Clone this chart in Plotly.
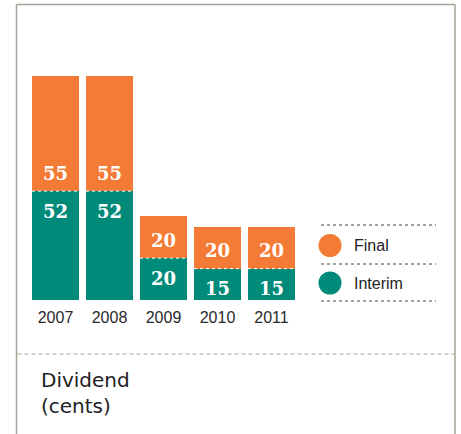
import plotly.graph_objects as go

years = ["2007", "2008", "2009", "2010", "2011"]
interim = [52, 52, 20, 15, 15]
final = [55, 55, 20, 20, 20]
series_names = ["Final", "Interim"]
title_lines = ["Dividend", "(cents)"]

ORANGE = "#f37b35"
TEAL = "#008a7a"
FRAME = "#aaa298"
W, H = 461, 434


def px(x):
    return x / W


def py(y):
    return 1 - y / H


idx = list(range(len(years)))
bw = 0.87

fig = go.Figure()
fig.add_bar(x=idx, y=interim, width=bw, marker=dict(color=TEAL, line=dict(width=0)),
            name="Interim", hoverinfo="skip")
fig.add_bar(x=idx, y=final, width=bw, marker=dict(color=ORANGE, line=dict(width=0)),
            name="Final", hoverinfo="skip")

shapes = []
annotations = []
num_font = dict(family="DejaVu Serif", size=18, color="white")
for i, (a, b) in enumerate(zip(interim, final)):
    shapes.append(dict(type="line", xref="x", yref="y", x0=i - bw / 2, x1=i + bw / 2,
                       y0=a, y1=a, line=dict(color="white", width=1, dash="dot")))
    annotations.append(dict(xref="x", yref="y", x=i, y=a, yshift=-20, text="<b>%d</b>" % a,
                            showarrow=False, font=num_font, xanchor="center", yanchor="middle"))
    annotations.append(dict(xref="x", yref="y", x=i, y=a, yshift=18, text="<b>%d</b>" % b,
                            showarrow=False, font=num_font, xanchor="center", yanchor="middle"))

# frame
shapes.append(dict(type="line", xref="paper", yref="paper", x0=px(16.5), x1=px(16.5),
                   y0=py(4.5), y1=py(434), line=dict(color=FRAME, width=1.5)))
shapes.append(dict(type="line", xref="paper", yref="paper", x0=px(16.5), x1=px(455),
                   y0=py(4.5), y1=py(4.5), line=dict(color=FRAME, width=1.5)))
shapes.append(dict(type="line", xref="paper", yref="paper", x0=px(455), x1=px(455),
                   y0=py(4.5), y1=py(434), line=dict(color=FRAME, width=1.5)))
shapes.append(dict(type="line", xref="paper", yref="paper", x0=px(17.5), x1=px(455),
                   y0=py(354), y1=py(354), line=dict(color=FRAME, width=1, dash="4px,3px")))

# legend
for yy in [225, 264, 301]:
    shapes.append(dict(type="line", xref="paper", yref="paper", x0=px(321), x1=px(436),
                       y0=py(yy), y1=py(yy), line=dict(color="#444444", width=1, dash="dot")))
for cy, col, name in [(245.5, ORANGE, series_names[0]), (283, TEAL, series_names[1])]:
    r = 11.5
    shapes.append(dict(type="circle", xref="paper", yref="paper", x0=px(330 - r), x1=px(330 + r),
                       y0=py(cy + r), y1=py(cy - r), fillcolor=col, line=dict(width=0)))
    annotations.append(dict(xref="paper", yref="paper", x=px(351.5), y=py(cy), text=name,
                            showarrow=False, xanchor="left", yanchor="middle",
                            font=dict(family="Liberation Sans", size=16, color="#222222")))

annotations.append(dict(xref="paper", yref="paper", x=px(39), y=py(393),
                        text="<br>".join(title_lines), showarrow=False, xanchor="left",
                        yanchor="middle", align="left",
                        font=dict(family="DejaVu Sans", size=20, color="#222222")))

fig.update_layout(
    width=W, height=H, margin=dict(l=0, r=0, t=0, b=0),
    paper_bgcolor="white", plot_bgcolor="white",
    barmode="stack", showlegend=False,
    shapes=shapes, annotations=annotations,
    xaxis=dict(range=[-0.5, 4.5], domain=[px(28.5), px(298.5)], tickvals=idx, ticktext=years,
               showgrid=False, zeroline=False, showline=False, ticks="outside", ticklen=3,
               tickcolor="rgba(0,0,0,0)", fixedrange=True,
               tickfont=dict(family="Liberation Sans", size=16, color="#2a2a2a")),
    yaxis=dict(range=[0, 107], domain=[py(300), py(76)], visible=False, fixedrange=True),
)

fig.write_html("out.html", config={"displayModeBar": False},
               post_script="document.body.style.margin='0';document.body.style.overflow='hidden';")
